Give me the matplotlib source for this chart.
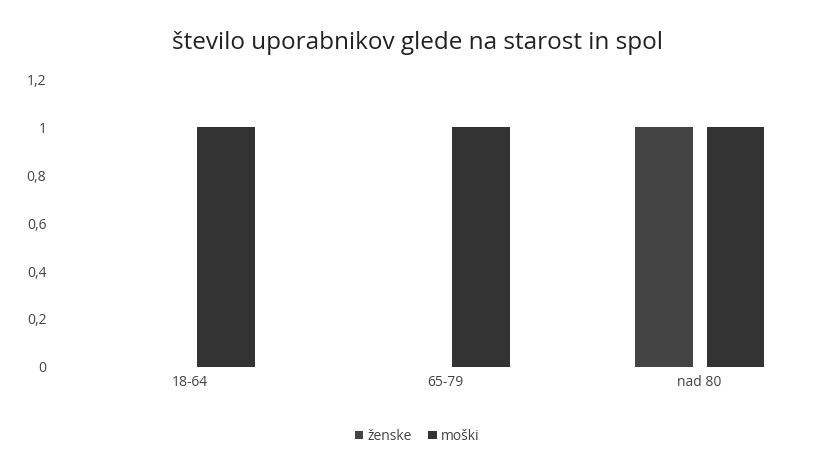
import matplotlib
matplotlib.use("Agg")
import matplotlib.pyplot as plt
import numpy as np

categories = ["18-64", "65-79", "nad 80"]
zenske = [0, 0, 1]
moski = [1, 1, 1]
yticks = [0, 0.2, 0.4, 0.6, 0.8, 1.0, 1.2]
ytick_labels = ["0", "0,2", "0,4", "0,6", "0,8", "1", "1,2"]

plt.rcParams['font.family'] = ['Open Sans', 'DejaVu Sans']

fig = plt.figure(figsize=(8.34, 4.57), dpi=100)
ax = fig.add_axes([0.0755, 0.197, 0.916, 0.630])

x = np.arange(len(categories))
w = 0.227
off = 0.141
ax.bar(x - off, zenske, w, color="#444444", linewidth=0, label="ženske")
ax.bar(x + off, moski, w, color="#333333", linewidth=0, label="moški")

ax.set_xlim(-0.5, len(categories) - 0.5)
ax.set_ylim(0, 1.2)
ax.set_yticks(yticks)
ax.set_yticklabels(ytick_labels)
ax.set_xticks(x)
ax.set_xticklabels(categories)
for s in ax.spines.values():
    s.set_visible(False)
ax.tick_params(axis='both', length=0, labelsize=10, colors="#444444")
ax.tick_params(axis='y', pad=12)
ax.tick_params(axis='x', pad=6)

fig.text(0.5, 0.905, "število uporabnikov glede na starost in spol", ha="center", va="center",
         fontsize=17.5, color="#222222")
fig.legend(loc="center", bbox_to_anchor=(0.5, 0.045), ncol=2, frameon=False, fontsize=10,
           handlelength=0.6, handleheight=0.6, handletextpad=0.3, columnspacing=1.2,
           labelcolor="#444444")

fig.savefig("out.png", dpi=100)
